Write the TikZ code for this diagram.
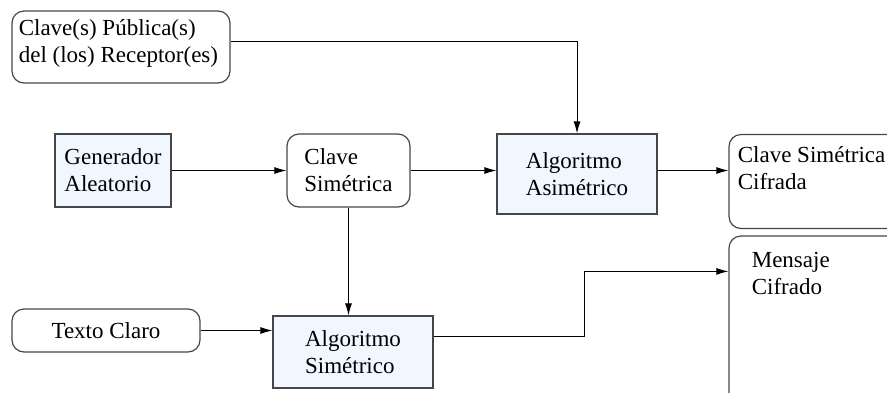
\documentclass[tikz,border=0pt]{standalone}
\usepackage{fontspec}
\setmainfont{Liberation Serif}
\usetikzlibrary{arrows.meta,positioning}

\definecolor{boxfill}{RGB}{240,247,255}
\definecolor{boxline}{RGB}{70,70,70}

\tikzset{
  bloque/.style={draw=boxline, fill=boxfill, line width=0.6pt, align=left,
    inner sep=0pt, font=\fontsize{11.5}{13.5}\selectfont},
  redondo/.style={draw=boxline, rounded corners=6pt, line width=0.6pt, align=left,
    inner sep=0pt, font=\fontsize{11.5}{13.5}\selectfont},
  texto/.style={inner sep=0pt, align=left, font=\fontsize{11.5}{13.5}\selectfont},
  flecha/.style={line width=0.5pt, ->}
}

\begin{document}
\begin{tikzpicture}[x=0.5pt, y=-0.5pt, >={Latex[length=6pt,width=3.5pt]}]
%      \draw[help lines] (0,0) grid (887,392);
      \useasboundingbox (0,0) rectangle (887,392);
      \clip (0,0) rectangle (887,392);

      % cajas
      \node[redondo, minimum width=109pt, minimum height=36pt] (pub) at (121,47) {};
      \node[texto, anchor=north west] (pubtxt) at ([xshift=3.5pt, yshift=-4.5pt]pub.north west)
        {Clave(s) Pública(s)\\del (los) Receptor(es)};

      \node[bloque, minimum width=58pt, minimum height=36.5pt] (gen) at (113,170.5) {Generador\\Aleatorio};
      \node[redondo, minimum width=61.5pt, minimum height=36.5pt] (csim) at (348.5,170.5) {Clave\\Simétrica};
      \node[bloque, minimum width=80pt, minimum height=40pt] (asim) at (577,174) {Algoritmo\\Asimétrico};

      \node[redondo, minimum width=90.5pt, minimum height=47pt] (ccif) at (819.5,181.5) {};
      \node[texto, anchor=north west] (ccitxt) at ([xshift=4.5pt, yshift=-6pt]ccif.north west)
        {Clave Simétrica\\Cifrada};

      \node[redondo, minimum width=90.5pt, minimum height=92pt] (mcif) at (819.5,328) {};
      \node[texto, anchor=north west] (mcitxt) at ([xshift=11.5pt, yshift=-8pt]mcif.north west)
        {Mensaje\\Cifrado};

      \node[redondo, minimum width=94pt, minimum height=21.5pt] (tcl) at (106,330.5) {Texto Claro};
      \node[bloque, minimum width=80pt, minimum height=36pt] (ssim) at (353,352) {Algoritmo\\Simétrico};

      \coordinate (mcin) at ([yshift=-18pt]mcif.north west);

      % conexiones
      \draw[flecha] ([yshift=3pt]pub.east) -| (asim.north);
      \draw[flecha] (gen.east) -- (csim.west);
      \draw[flecha] (csim.east) -- (csim.east -| asim.west);
      \draw[flecha] (csim.east -| asim.east) -- (csim.east -| ccif.west);
      \draw[flecha] (csim.south) -- (csim.south |- ssim.north);
      \draw[flecha] (tcl.east) -- (tcl.east -| ssim.west);
      \draw[flecha] ([yshift=-10.5pt]ssim.north east) -- ++(75.5pt,0) |- (mcin);
\end{tikzpicture}
\end{document}
